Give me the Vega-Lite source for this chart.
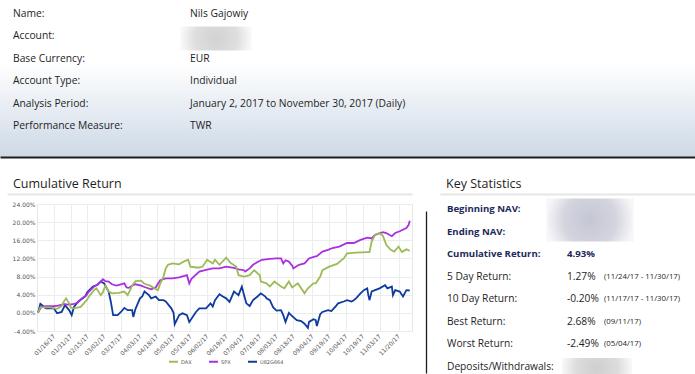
{
  "$schema": "https://vega.github.io/schema/vega-lite/v6.json",
  "background": "white",
  "padding": 0,
  "columns": 1,
  "align": "none",
  "spacing": 20,
  "config": {"font": "Open Sans", "view": {"stroke": null}, "axis": {"minExtent": 0}},
  "concat": [
    {
      "width": 695,
      "height": 157,
      "view": {"stroke": null, "fill": {"gradient": "linear", "x1": 0, "y1": 0, "x2": 0, "y2": 1, "stops": [{"offset": 0, "color": "#ffffff"}, {"offset": 0.4, "color": "#ffffff"}, {"offset": 1, "color": "#cdd9e6"}]}},
      "data": {"values": [
        {"row": 1, "col": "label", "text": "Name:"},
        {"row": 1, "col": "value", "text": "Nils Gajowiy"},
        {"row": 2, "col": "label", "text": "Account:"},
        {"row": 2, "col": "value", "text": ""},
        {"row": 3, "col": "label", "text": "Base Currency:"},
        {"row": 3, "col": "value", "text": "EUR"},
        {"row": 4, "col": "label", "text": "Account Type:"},
        {"row": 4, "col": "value", "text": "Individual"},
        {"row": 5, "col": "label", "text": "Analysis Period:"},
        {"row": 5, "col": "value", "text": "January 2, 2017 to November 30, 2017 (Daily)"},
        {"row": 6, "col": "label", "text": "Performance Measure:"},
        {"row": 6, "col": "value", "text": "TWR"}
      ]},
      "layer": [
        {
          "mark": {"type": "point", "opacity": 0},
          "encoding": {
            "x": {"field": "col", "type": "nominal", "scale": {"type": "point"}, "axis": {"orient": "bottom", "labels": false, "ticks": false, "title": null, "grid": false, "domain": true, "domainColor": "#1e1e1e", "domainWidth": 2, "minExtent": 0, "maxExtent": 0}}
          }
        },
        {
          "mark": {"type": "text", "align": "left", "baseline": "middle", "fontSize": 10.3, "color": "#1e1e1e", "font": "Open Sans"},
          "encoding": {
            "x": {"field": "col", "type": "nominal", "scale": {"type": "point", "domain": ["label", "value"], "range": [13, 190], "padding": 0}, "axis": null},
            "y": {"field": "row", "type": "ordinal", "scale": {"type": "point", "domain": [1, 2, 3, 4, 5, 6], "range": [14, 126], "padding": 0}, "axis": null},
            "text": {"field": "text"}
          }
        },
        {
          "transform": [{"filter": "datum.row == 2 && datum.col == 'value'"}],
          "mark": {"type": "point", "shape": "M-1,-0.333L1,-0.333L1,0.333L-1,0.333Z", "size": 5184, "filled": true, "opacity": 1, "strokeWidth": 0, "xOffset": 26, "yOffset": 2,
            "fill": {"gradient": "radial", "x1": 0.5, "y1": 0.5, "x2": 0.5, "y2": 0.5, "r1": 0, "r2": 0.5, "stops": [{"offset": 0, "color": "#d2d2d2"}, {"offset": 0.6, "color": "#dedede"}, {"offset": 1, "color": "#fafafa"}]}},
          "encoding": {
            "x": {"field": "col", "type": "nominal", "scale": {"type": "point", "domain": ["label", "value"], "range": [13, 190], "padding": 0}, "axis": null},
            "y": {"field": "row", "type": "ordinal", "scale": {"type": "point", "domain": [1, 2, 3, 4, 5, 6], "range": [14, 126], "padding": 0}, "axis": null}
          }
        }
      ],
      "resolve": {"scale": {"x": "independent", "y": "independent"}}
    },
    {
      "spacing": 14,
      "bounds": "flush",
      "hconcat": [
        {
          "width": 23,
          "height": 127,
          "data": {"values": [{"k": 1}]},
          "mark": {"type": "point", "opacity": 0},
          "encoding": {}
        },
        {
          "width": 375,
          "height": 127,
          "view": {"stroke": "#e6e6e6"},
          "title": {"text": "Cumulative Return", "anchor": "start", "frame": "group", "dx": -24, "offset": 4, "fontSize": 12.5, "fontWeight": "normal", "font": "Open Sans", "color": "#1e1e1e"},
          "layer": [
            {
              "data": {"values": [
                {"date": "2017-01-02", "series": "U82G664", "value": 0.1},
                {"date": "2017-01-04", "series": "U82G664", "value": 2.0},
                {"date": "2017-01-09", "series": "U82G664", "value": 1.0},
                {"date": "2017-01-16", "series": "U82G664", "value": 1.0},
                {"date": "2017-01-19", "series": "U82G664", "value": -0.1},
                {"date": "2017-01-23", "series": "U82G664", "value": 0.2},
                {"date": "2017-01-26", "series": "U82G664", "value": 1.7},
                {"date": "2017-01-30", "series": "U82G664", "value": 0.5},
                {"date": "2017-02-01", "series": "U82G664", "value": -0.5},
                {"date": "2017-02-03", "series": "U82G664", "value": 1.3},
                {"date": "2017-02-07", "series": "U82G664", "value": 2.5},
                {"date": "2017-02-13", "series": "U82G664", "value": 3.6},
                {"date": "2017-02-15", "series": "U82G664", "value": 4.6},
                {"date": "2017-02-20", "series": "U82G664", "value": 5.8},
                {"date": "2017-02-24", "series": "U82G664", "value": 6.2},
                {"date": "2017-02-27", "series": "U82G664", "value": 6.9},
                {"date": "2017-03-02", "series": "U82G664", "value": 6.5},
                {"date": "2017-03-06", "series": "U82G664", "value": 4.7},
                {"date": "2017-03-08", "series": "U82G664", "value": 2.4},
                {"date": "2017-03-10", "series": "U82G664", "value": -0.5},
                {"date": "2017-03-14", "series": "U82G664", "value": -0.5},
                {"date": "2017-03-17", "series": "U82G664", "value": 0.2},
                {"date": "2017-03-20", "series": "U82G664", "value": 1.1},
                {"date": "2017-03-23", "series": "U82G664", "value": 0.6},
                {"date": "2017-03-27", "series": "U82G664", "value": 0.6},
                {"date": "2017-03-28", "series": "U82G664", "value": -0.9},
                {"date": "2017-03-30", "series": "U82G664", "value": 0.9},
                {"date": "2017-04-03", "series": "U82G664", "value": 3.2},
                {"date": "2017-04-05", "series": "U82G664", "value": 3.6},
                {"date": "2017-04-07", "series": "U82G664", "value": 4.7},
                {"date": "2017-04-11", "series": "U82G664", "value": 3.9},
                {"date": "2017-04-13", "series": "U82G664", "value": 3.2},
                {"date": "2017-04-17", "series": "U82G664", "value": 3.6},
                {"date": "2017-04-20", "series": "U82G664", "value": 2.8},
                {"date": "2017-04-24", "series": "U82G664", "value": 2.8},
                {"date": "2017-04-26", "series": "U82G664", "value": 2.5},
                {"date": "2017-05-01", "series": "U82G664", "value": 1.0},
                {"date": "2017-05-03", "series": "U82G664", "value": 0.0},
                {"date": "2017-05-04", "series": "U82G664", "value": -2.5},
                {"date": "2017-05-08", "series": "U82G664", "value": -0.5},
                {"date": "2017-05-11", "series": "U82G664", "value": -0.1},
                {"date": "2017-05-15", "series": "U82G664", "value": -0.5},
                {"date": "2017-05-17", "series": "U82G664", "value": -2.0},
                {"date": "2017-05-19", "series": "U82G664", "value": -1.3},
                {"date": "2017-05-23", "series": "U82G664", "value": 0.2},
                {"date": "2017-05-26", "series": "U82G664", "value": 1.0},
                {"date": "2017-06-01", "series": "U82G664", "value": 1.0},
                {"date": "2017-06-05", "series": "U82G664", "value": 2.1},
                {"date": "2017-06-07", "series": "U82G664", "value": 1.4},
                {"date": "2017-06-09", "series": "U82G664", "value": 2.8},
                {"date": "2017-06-13", "series": "U82G664", "value": 4.1},
                {"date": "2017-06-16", "series": "U82G664", "value": 3.6},
                {"date": "2017-06-19", "series": "U82G664", "value": 3.2},
                {"date": "2017-06-22", "series": "U82G664", "value": 2.4},
                {"date": "2017-06-26", "series": "U82G664", "value": 4.7},
                {"date": "2017-06-28", "series": "U82G664", "value": 4.3},
                {"date": "2017-06-30", "series": "U82G664", "value": 3.9},
                {"date": "2017-07-03", "series": "U82G664", "value": 5.8},
                {"date": "2017-07-05", "series": "U82G664", "value": 3.9},
                {"date": "2017-07-07", "series": "U82G664", "value": 2.1},
                {"date": "2017-07-10", "series": "U82G664", "value": 1.5},
                {"date": "2017-07-13", "series": "U82G664", "value": 2.8},
                {"date": "2017-07-17", "series": "U82G664", "value": 3.6},
                {"date": "2017-07-20", "series": "U82G664", "value": 4.3},
                {"date": "2017-07-24", "series": "U82G664", "value": 3.6},
                {"date": "2017-07-25", "series": "U82G664", "value": 3.2},
                {"date": "2017-07-28", "series": "U82G664", "value": 2.8},
                {"date": "2017-07-31", "series": "U82G664", "value": 1.2},
                {"date": "2017-08-03", "series": "U82G664", "value": 0.5},
                {"date": "2017-08-07", "series": "U82G664", "value": 0.6},
                {"date": "2017-08-09", "series": "U82G664", "value": -0.5},
                {"date": "2017-08-11", "series": "U82G664", "value": -2.0},
                {"date": "2017-08-14", "series": "U82G664", "value": 0.0},
                {"date": "2017-08-16", "series": "U82G664", "value": -0.5},
                {"date": "2017-08-21", "series": "U82G664", "value": -1.6},
                {"date": "2017-08-25", "series": "U82G664", "value": -1.8},
                {"date": "2017-08-28", "series": "U82G664", "value": -2.4},
                {"date": "2017-08-31", "series": "U82G664", "value": -3.3},
                {"date": "2017-09-01", "series": "U82G664", "value": -2.0},
                {"date": "2017-09-05", "series": "U82G664", "value": -1.4},
                {"date": "2017-09-07", "series": "U82G664", "value": -1.6},
                {"date": "2017-09-08", "series": "U82G664", "value": -2.9},
                {"date": "2017-09-11", "series": "U82G664", "value": -0.3},
                {"date": "2017-09-13", "series": "U82G664", "value": 0.2},
                {"date": "2017-09-18", "series": "U82G664", "value": 0.6},
                {"date": "2017-09-21", "series": "U82G664", "value": 0.4},
                {"date": "2017-09-25", "series": "U82G664", "value": 1.5},
                {"date": "2017-09-27", "series": "U82G664", "value": 2.1},
                {"date": "2017-10-02", "series": "U82G664", "value": 2.5},
                {"date": "2017-10-05", "series": "U82G664", "value": 2.8},
                {"date": "2017-10-09", "series": "U82G664", "value": 2.5},
                {"date": "2017-10-11", "series": "U82G664", "value": 2.8},
                {"date": "2017-10-13", "series": "U82G664", "value": 3.2},
                {"date": "2017-10-17", "series": "U82G664", "value": 4.3},
                {"date": "2017-10-20", "series": "U82G664", "value": 5.0},
                {"date": "2017-10-23", "series": "U82G664", "value": 5.4},
                {"date": "2017-10-24", "series": "U82G664", "value": 3.9},
                {"date": "2017-10-25", "series": "U82G664", "value": 2.8},
                {"date": "2017-10-27", "series": "U82G664", "value": 4.7},
                {"date": "2017-10-30", "series": "U82G664", "value": 5.0},
                {"date": "2017-11-03", "series": "U82G664", "value": 5.4},
                {"date": "2017-11-08", "series": "U82G664", "value": 6.1},
                {"date": "2017-11-10", "series": "U82G664", "value": 5.4},
                {"date": "2017-11-14", "series": "U82G664", "value": 5.8},
                {"date": "2017-11-15", "series": "U82G664", "value": 3.9},
                {"date": "2017-11-17", "series": "U82G664", "value": 5.0},
                {"date": "2017-11-21", "series": "U82G664", "value": 4.7},
                {"date": "2017-11-24", "series": "U82G664", "value": 3.6},
                {"date": "2017-11-27", "series": "U82G664", "value": 5.0},
                {"date": "2017-11-30", "series": "U82G664", "value": 4.93},
                {"date": "2017-01-02", "series": "SPX", "value": 0.1},
                {"date": "2017-01-05", "series": "SPX", "value": 1.4},
                {"date": "2017-01-10", "series": "SPX", "value": 1.5},
                {"date": "2017-01-16", "series": "SPX", "value": 1.5},
                {"date": "2017-01-20", "series": "SPX", "value": 1.6},
                {"date": "2017-01-25", "series": "SPX", "value": 1.9},
                {"date": "2017-01-30", "series": "SPX", "value": 1.8},
                {"date": "2017-02-02", "series": "SPX", "value": 1.9},
                {"date": "2017-02-06", "series": "SPX", "value": 2.2},
                {"date": "2017-02-10", "series": "SPX", "value": 3.2},
                {"date": "2017-02-14", "series": "SPX", "value": 3.8},
                {"date": "2017-02-16", "series": "SPX", "value": 4.6},
                {"date": "2017-02-21", "series": "SPX", "value": 5.8},
                {"date": "2017-02-24", "series": "SPX", "value": 6.2},
                {"date": "2017-03-01", "series": "SPX", "value": 7.4},
                {"date": "2017-03-03", "series": "SPX", "value": 7.0},
                {"date": "2017-03-06", "series": "SPX", "value": 6.9},
                {"date": "2017-03-09", "series": "SPX", "value": 6.3},
                {"date": "2017-03-13", "series": "SPX", "value": 6.0},
                {"date": "2017-03-17", "series": "SPX", "value": 6.3},
                {"date": "2017-03-20", "series": "SPX", "value": 6.5},
                {"date": "2017-03-22", "series": "SPX", "value": 5.6},
                {"date": "2017-03-24", "series": "SPX", "value": 5.5},
                {"date": "2017-03-27", "series": "SPX", "value": 6.0},
                {"date": "2017-03-30", "series": "SPX", "value": 6.3},
                {"date": "2017-04-04", "series": "SPX", "value": 6.0},
                {"date": "2017-04-07", "series": "SPX", "value": 5.7},
                {"date": "2017-04-13", "series": "SPX", "value": 5.2},
                {"date": "2017-04-17", "series": "SPX", "value": 5.6},
                {"date": "2017-04-21", "series": "SPX", "value": 7.2},
                {"date": "2017-04-26", "series": "SPX", "value": 7.6},
                {"date": "2017-05-02", "series": "SPX", "value": 7.6},
                {"date": "2017-05-08", "series": "SPX", "value": 7.8},
                {"date": "2017-05-15", "series": "SPX", "value": 8.3},
                {"date": "2017-05-17", "series": "SPX", "value": 6.5},
                {"date": "2017-05-19", "series": "SPX", "value": 7.5},
                {"date": "2017-05-26", "series": "SPX", "value": 9.1},
                {"date": "2017-06-01", "series": "SPX", "value": 9.5},
                {"date": "2017-06-07", "series": "SPX", "value": 9.8},
                {"date": "2017-06-13", "series": "SPX", "value": 9.8},
                {"date": "2017-06-19", "series": "SPX", "value": 10.2},
                {"date": "2017-06-26", "series": "SPX", "value": 9.9},
                {"date": "2017-06-30", "series": "SPX", "value": 9.6},
                {"date": "2017-07-05", "series": "SPX", "value": 9.4},
                {"date": "2017-07-06", "series": "SPX", "value": 9.1},
                {"date": "2017-07-10", "series": "SPX", "value": 9.8},
                {"date": "2017-07-13", "series": "SPX", "value": 10.6},
                {"date": "2017-07-17", "series": "SPX", "value": 11.2},
                {"date": "2017-07-21", "series": "SPX", "value": 11.7},
                {"date": "2017-07-28", "series": "SPX", "value": 11.9},
                {"date": "2017-08-03", "series": "SPX", "value": 12.0},
                {"date": "2017-08-07", "series": "SPX", "value": 12.0},
                {"date": "2017-08-09", "series": "SPX", "value": 10.9},
                {"date": "2017-08-11", "series": "SPX", "value": 11.6},
                {"date": "2017-08-14", "series": "SPX", "value": 11.3},
                {"date": "2017-08-17", "series": "SPX", "value": 10.4},
                {"date": "2017-08-18", "series": "SPX", "value": 9.8},
                {"date": "2017-08-23", "series": "SPX", "value": 10.6},
                {"date": "2017-08-28", "series": "SPX", "value": 10.9},
                {"date": "2017-09-01", "series": "SPX", "value": 12.0},
                {"date": "2017-09-06", "series": "SPX", "value": 12.4},
                {"date": "2017-09-08", "series": "SPX", "value": 12.5},
                {"date": "2017-09-13", "series": "SPX", "value": 13.5},
                {"date": "2017-09-18", "series": "SPX", "value": 13.9},
                {"date": "2017-09-22", "series": "SPX", "value": 14.3},
                {"date": "2017-09-28", "series": "SPX", "value": 14.6},
                {"date": "2017-10-05", "series": "SPX", "value": 15.4},
                {"date": "2017-10-11", "series": "SPX", "value": 15.4},
                {"date": "2017-10-17", "series": "SPX", "value": 16.1},
                {"date": "2017-10-23", "series": "SPX", "value": 16.6},
                {"date": "2017-10-27", "series": "SPX", "value": 16.4},
                {"date": "2017-10-30", "series": "SPX", "value": 17.2},
                {"date": "2017-11-06", "series": "SPX", "value": 17.8},
                {"date": "2017-11-09", "series": "SPX", "value": 17.6},
                {"date": "2017-11-14", "series": "SPX", "value": 16.9},
                {"date": "2017-11-17", "series": "SPX", "value": 17.6},
                {"date": "2017-11-21", "series": "SPX", "value": 18.0},
                {"date": "2017-11-27", "series": "SPX", "value": 18.7},
                {"date": "2017-11-29", "series": "SPX", "value": 19.4},
                {"date": "2017-11-30", "series": "SPX", "value": 20.3},
                {"date": "2017-01-02", "series": "DAX", "value": 0.1},
                {"date": "2017-01-04", "series": "DAX", "value": 1.2},
                {"date": "2017-01-09", "series": "DAX", "value": 1.2},
                {"date": "2017-01-13", "series": "DAX", "value": 1.2},
                {"date": "2017-01-19", "series": "DAX", "value": 0.9},
                {"date": "2017-01-23", "series": "DAX", "value": 1.5},
                {"date": "2017-01-25", "series": "DAX", "value": 2.5},
                {"date": "2017-01-27", "series": "DAX", "value": 3.2},
                {"date": "2017-01-30", "series": "DAX", "value": 2.0},
                {"date": "2017-01-31", "series": "DAX", "value": 1.2},
                {"date": "2017-02-03", "series": "DAX", "value": 1.0},
                {"date": "2017-02-09", "series": "DAX", "value": 1.3},
                {"date": "2017-02-13", "series": "DAX", "value": 2.4},
                {"date": "2017-02-15", "series": "DAX", "value": 3.0},
                {"date": "2017-02-17", "series": "DAX", "value": 3.8},
                {"date": "2017-02-21", "series": "DAX", "value": 5.0},
                {"date": "2017-02-23", "series": "DAX", "value": 5.4},
                {"date": "2017-02-27", "series": "DAX", "value": 3.9},
                {"date": "2017-03-01", "series": "DAX", "value": 4.6},
                {"date": "2017-03-03", "series": "DAX", "value": 6.0},
                {"date": "2017-03-06", "series": "DAX", "value": 4.7},
                {"date": "2017-03-09", "series": "DAX", "value": 4.3},
                {"date": "2017-03-15", "series": "DAX", "value": 4.4},
                {"date": "2017-03-20", "series": "DAX", "value": 4.7},
                {"date": "2017-03-23", "series": "DAX", "value": 3.9},
                {"date": "2017-03-27", "series": "DAX", "value": 6.0},
                {"date": "2017-03-30", "series": "DAX", "value": 7.0},
                {"date": "2017-04-04", "series": "DAX", "value": 7.1},
                {"date": "2017-04-07", "series": "DAX", "value": 6.4},
                {"date": "2017-04-12", "series": "DAX", "value": 6.0},
                {"date": "2017-04-16", "series": "DAX", "value": 5.4},
                {"date": "2017-04-19", "series": "DAX", "value": 5.0},
                {"date": "2017-04-21", "series": "DAX", "value": 6.4},
                {"date": "2017-04-24", "series": "DAX", "value": 8.0},
                {"date": "2017-04-26", "series": "DAX", "value": 9.8},
                {"date": "2017-04-28", "series": "DAX", "value": 10.6},
                {"date": "2017-05-02", "series": "DAX", "value": 10.9},
                {"date": "2017-05-08", "series": "DAX", "value": 10.7},
                {"date": "2017-05-12", "series": "DAX", "value": 11.3},
                {"date": "2017-05-16", "series": "DAX", "value": 11.7},
                {"date": "2017-05-18", "series": "DAX", "value": 10.2},
                {"date": "2017-05-23", "series": "DAX", "value": 10.0},
                {"date": "2017-05-26", "series": "DAX", "value": 10.0},
                {"date": "2017-05-29", "series": "DAX", "value": 10.2},
                {"date": "2017-06-02", "series": "DAX", "value": 11.7},
                {"date": "2017-06-07", "series": "DAX", "value": 10.9},
                {"date": "2017-06-09", "series": "DAX", "value": 11.7},
                {"date": "2017-06-13", "series": "DAX", "value": 10.6},
                {"date": "2017-06-19", "series": "DAX", "value": 12.2},
                {"date": "2017-06-23", "series": "DAX", "value": 11.0},
                {"date": "2017-06-28", "series": "DAX", "value": 10.2},
                {"date": "2017-06-30", "series": "DAX", "value": 8.3},
                {"date": "2017-07-05", "series": "DAX", "value": 8.0},
                {"date": "2017-07-10", "series": "DAX", "value": 8.3},
                {"date": "2017-07-14", "series": "DAX", "value": 9.4},
                {"date": "2017-07-19", "series": "DAX", "value": 8.3},
                {"date": "2017-07-20", "series": "DAX", "value": 6.9},
                {"date": "2017-07-25", "series": "DAX", "value": 6.5},
                {"date": "2017-07-28", "series": "DAX", "value": 5.8},
                {"date": "2017-08-01", "series": "DAX", "value": 6.9},
                {"date": "2017-08-07", "series": "DAX", "value": 5.8},
                {"date": "2017-08-10", "series": "DAX", "value": 5.4},
                {"date": "2017-08-14", "series": "DAX", "value": 6.9},
                {"date": "2017-08-17", "series": "DAX", "value": 5.6},
                {"date": "2017-08-22", "series": "DAX", "value": 6.5},
                {"date": "2017-08-25", "series": "DAX", "value": 5.4},
                {"date": "2017-08-28", "series": "DAX", "value": 4.3},
                {"date": "2017-08-31", "series": "DAX", "value": 5.4},
                {"date": "2017-09-05", "series": "DAX", "value": 6.5},
                {"date": "2017-09-07", "series": "DAX", "value": 6.5},
                {"date": "2017-09-11", "series": "DAX", "value": 8.0},
                {"date": "2017-09-13", "series": "DAX", "value": 9.4},
                {"date": "2017-09-19", "series": "DAX", "value": 10.2},
                {"date": "2017-09-26", "series": "DAX", "value": 10.8},
                {"date": "2017-10-02", "series": "DAX", "value": 12.0},
                {"date": "2017-10-05", "series": "DAX", "value": 13.1},
                {"date": "2017-10-13", "series": "DAX", "value": 13.3},
                {"date": "2017-10-23", "series": "DAX", "value": 13.4},
                {"date": "2017-10-25", "series": "DAX", "value": 13.4},
                {"date": "2017-10-27", "series": "DAX", "value": 15.7},
                {"date": "2017-10-30", "series": "DAX", "value": 17.2},
                {"date": "2017-11-03", "series": "DAX", "value": 17.6},
                {"date": "2017-11-06", "series": "DAX", "value": 17.0},
                {"date": "2017-11-09", "series": "DAX", "value": 15.0},
                {"date": "2017-11-13", "series": "DAX", "value": 13.9},
                {"date": "2017-11-16", "series": "DAX", "value": 13.5},
                {"date": "2017-11-20", "series": "DAX", "value": 14.6},
                {"date": "2017-11-23", "series": "DAX", "value": 13.4},
                {"date": "2017-11-27", "series": "DAX", "value": 14.0},
                {"date": "2017-11-30", "series": "DAX", "value": 13.7}
              ]},
              "mark": {"type": "line", "strokeWidth": 1.8},
              "encoding": {
                "x": {
                  "field": "date", "type": "temporal",
                  "scale": {"type": "utc", "domain": [{"year": 2017, "month": 1, "date": 1, "utc": true}, {"year": 2017, "month": 12, "date": 2, "utc": true}]},
                  "axis": {
                    "values": [
                      {"year": 2017, "month": 1, "date": 16, "utc": true},
                      {"year": 2017, "month": 1, "date": 31, "utc": true},
                      {"year": 2017, "month": 2, "date": 15, "utc": true},
                      {"year": 2017, "month": 3, "date": 2, "utc": true},
                      {"year": 2017, "month": 3, "date": 17, "utc": true},
                      {"year": 2017, "month": 4, "date": 3, "utc": true},
                      {"year": 2017, "month": 4, "date": 18, "utc": true},
                      {"year": 2017, "month": 5, "date": 3, "utc": true},
                      {"year": 2017, "month": 5, "date": 18, "utc": true},
                      {"year": 2017, "month": 6, "date": 2, "utc": true},
                      {"year": 2017, "month": 6, "date": 19, "utc": true},
                      {"year": 2017, "month": 7, "date": 4, "utc": true},
                      {"year": 2017, "month": 7, "date": 19, "utc": true},
                      {"year": 2017, "month": 8, "date": 3, "utc": true},
                      {"year": 2017, "month": 8, "date": 18, "utc": true},
                      {"year": 2017, "month": 9, "date": 4, "utc": true},
                      {"year": 2017, "month": 9, "date": 19, "utc": true},
                      {"year": 2017, "month": 10, "date": 4, "utc": true},
                      {"year": 2017, "month": 10, "date": 19, "utc": true},
                      {"year": 2017, "month": 11, "date": 3, "utc": true},
                      {"year": 2017, "month": 11, "date": 20, "utc": true}
                    ],
                    "labelExpr": "utcFormat(datum.value, '%m/%d/%y')",
                    "labelAngle": -45, "labelAlign": "right", "labelBaseline": "middle", "labelFont": "DejaVu Sans", "labelFontSize": 6, "labelColor": "#555555",
                    "ticks": false, "domain": false, "grid": true, "gridColor": "#ececec", "title": null,
                    "labelPadding": 4, "labelOverlap": false, "labelFlush": false, "labelBound": false
                  }
                },
                "y": {
                  "field": "value", "type": "quantitative",
                  "scale": {"domain": [-4, 24], "nice": false},
                  "axis": {
                    "values": [-4, 0, 4, 8, 12, 16, 20, 24],
                    "labelExpr": "replace(format(datum.value, '.2f'), '−', '-') + '%'",
                    "labelFont": "DejaVu Sans", "labelFontSize": 6, "labelColor": "#555555",
                    "ticks": false, "domain": false, "grid": true, "gridColor": "#ececec", "title": null,
                    "labelPadding": 2, "minExtent": 0, "maxExtent": 37
                  }
                },
                "color": {
                  "field": "series", "type": "nominal",
                  "scale": {"domain": ["DAX", "SPX", "U82G664"], "range": ["#9bbb59", "#a92fe0", "#0e3b9d"]},
                  "legend": {"orient": "none", "legendX": 168, "legendY": 356, "direction": "horizontal", "title": null, "padding": 0, "symbolType": "stroke", "symbolStrokeWidth": 2, "symbolSize": 81, "labelOffset": 2, "labelFont": "DejaVu Sans", "labelFontSize": 5, "labelColor": "#555555", "columnPadding": 13}
                }
              }
            },
            {
              "data": {"values": [{"k": "a"}, {"k": "b"}]},
              "mark": {"type": "point", "opacity": 0},
              "encoding": {
                "x": {"field": "k", "type": "nominal", "scale": {"type": "point", "range": [-30, 375]}, "axis": {"orient": "top", "offset": 10, "labels": false, "ticks": false, "grid": false, "title": null, "domainColor": "#e6e6e6", "domainWidth": 2}}
              }
            }
          ],
          "resolve": {"scale": {"x": "independent"}}
        },
        {
          "width": 269,
          "height": 169,
          "title": {"text": "Key Statistics", "anchor": "start", "frame": "group", "dx": 20, "offset": 4, "fontSize": 12.5, "fontWeight": "normal", "font": "Open Sans", "color": "#1e1e1e"},
          "data": {"values": [
            {"row": 1, "col": "label", "kind": "key", "text": "Beginning NAV:"},
            {"row": 1, "col": "value", "kind": "hidden", "text": ""},
            {"row": 2, "col": "label", "kind": "key", "text": "Ending NAV:"},
            {"row": 3, "col": "label", "kind": "key", "text": "Cumulative Return:"},
            {"row": 3, "col": "value", "kind": "key", "text": "4.93%"},
            {"row": 4, "col": "label", "kind": "detail", "text": "5 Day Return:"},
            {"row": 4, "col": "value", "kind": "detail", "text": "1.27%"},
            {"row": 4, "col": "date", "kind": "detail", "text": "(11/24/17 - 11/30/17)"},
            {"row": 5, "col": "label", "kind": "detail", "text": "10 Day Return:"},
            {"row": 5, "col": "value", "kind": "detail", "text": "-0.20%"},
            {"row": 5, "col": "date", "kind": "detail", "text": "(11/17/17 - 11/30/17)"},
            {"row": 6, "col": "label", "kind": "detail", "text": "Best Return:"},
            {"row": 6, "col": "value", "kind": "detail", "text": "2.68%"},
            {"row": 6, "col": "date", "kind": "detail", "text": "(09/11/17)"},
            {"row": 7, "col": "label", "kind": "detail", "text": "Worst Return:"},
            {"row": 7, "col": "value", "kind": "detail", "text": "-2.49%"},
            {"row": 7, "col": "date", "kind": "detail", "text": "(05/04/17)"},
            {"row": 8, "col": "label", "kind": "detail", "text": "Deposits/Withdrawals:"},
            {"row": 8, "col": "value", "kind": "hidden", "text": ""}
          ]},
          "layer": [
            {
              "data": {"values": [{"k": "a"}, {"k": "b"}]},
              "mark": {"type": "point", "opacity": 0},
              "encoding": {
                "x": {"field": "k", "type": "nominal", "scale": {"type": "point", "range": [14, 269]}, "axis": {"orient": "top", "offset": 10, "labels": false, "ticks": false, "grid": false, "title": null, "domainColor": "#e6e6e6", "domainWidth": 2}},
                "y": {"field": "k", "type": "nominal", "scale": {"type": "point", "range": [7, 169]}, "axis": {"orient": "left", "labels": false, "ticks": false, "grid": false, "title": null, "domainColor": "#1e1e1e", "domainWidth": 1.3, "minExtent": 0, "maxExtent": 0}}
              }
            },
            {
              "transform": [{"filter": "datum.kind == 'key'"}],
              "mark": {"type": "text", "align": "left", "baseline": "middle", "fontSize": 9.6, "fontWeight": "bold", "color": "#1c2a5a", "font": "Open Sans"},
              "encoding": {
                "x": {"field": "col", "type": "nominal", "scale": {"type": "point", "domain": ["label", "value"], "range": [21, 141], "padding": 0}, "axis": null},
                "y": {"field": "row", "type": "ordinal", "scale": {"type": "point", "domain": [1, 2, 3, 4, 5, 6, 7, 8], "range": [5, 163], "padding": 0}, "axis": null},
                "text": {"field": "text"}
              }
            },
            {
              "transform": [{"filter": "datum.kind == 'detail' && datum.col != 'date'"}],
              "mark": {"type": "text", "align": "left", "baseline": "middle", "fontSize": 10.2, "color": "#1e1e1e", "font": "Open Sans"},
              "encoding": {
                "x": {"field": "col", "type": "nominal", "scale": {"type": "point", "domain": ["label", "value"], "range": [21, 141], "padding": 0}, "axis": null},
                "y": {"field": "row", "type": "ordinal", "scale": {"type": "point", "domain": [1, 2, 3, 4, 5, 6, 7, 8], "range": [5, 163], "padding": 0}, "axis": null},
                "text": {"field": "text"}
              }
            },
            {
              "transform": [{"filter": "datum.col == 'date'"}],
              "mark": {"type": "text", "align": "left", "baseline": "middle", "fontSize": 7.8, "color": "#1e1e1e", "font": "Open Sans"},
              "encoding": {
                "x": {"field": "col", "type": "nominal", "scale": {"type": "point", "domain": ["date"], "range": [178, 178], "padding": 0}, "axis": null},
                "y": {"field": "row", "type": "ordinal", "scale": {"type": "point", "domain": [1, 2, 3, 4, 5, 6, 7, 8], "range": [5, 163], "padding": 0}, "axis": null},
                "text": {"field": "text"}
              }
            },
            {
              "transform": [{"filter": "datum.kind == 'hidden' && datum.row == 1"}],
              "mark": {"type": "point", "shape": "M-1,-0.494L1,-0.494L1,0.494L-1,0.494Z", "size": 7569, "filled": true, "opacity": 1, "strokeWidth": 0, "xOffset": 23, "yOffset": 11,
                "fill": {"gradient": "radial", "x1": 0.5, "y1": 0.5, "x2": 0.5, "y2": 0.5, "r1": 0, "r2": 0.5, "stops": [{"offset": 0, "color": "#c4c6d3"}, {"offset": 0.6, "color": "#d3d4de"}, {"offset": 1, "color": "#f6f6f8"}]}},
              "encoding": {
                "x": {"field": "col", "type": "nominal", "scale": {"type": "point", "domain": ["label", "value"], "range": [21, 141], "padding": 0}, "axis": null},
                "y": {"field": "row", "type": "ordinal", "scale": {"type": "point", "domain": [1, 2, 3, 4, 5, 6, 7, 8], "range": [5, 163], "padding": 0}, "axis": null}
              }
            },
            {
              "transform": [{"filter": "datum.kind == 'hidden' && datum.row == 8"}],
              "mark": {"type": "point", "shape": "M-1,-0.286L1,-0.286L1,0.286L-1,0.286Z", "size": 4900, "filled": true, "opacity": 1, "strokeWidth": 0, "xOffset": 30, "yOffset": 1,
                "fill": {"gradient": "radial", "x1": 0.5, "y1": 0.5, "x2": 0.5, "y2": 0.5, "r1": 0, "r2": 0.5, "stops": [{"offset": 0, "color": "#cfcfcf"}, {"offset": 0.6, "color": "#dcdcdc"}, {"offset": 1, "color": "#f8f8f8"}]}},
              "encoding": {
                "x": {"field": "col", "type": "nominal", "scale": {"type": "point", "domain": ["label", "value"], "range": [21, 141], "padding": 0}, "axis": null},
                "y": {"field": "row", "type": "ordinal", "scale": {"type": "point", "domain": [1, 2, 3, 4, 5, 6, 7, 8], "range": [5, 163], "padding": 0}, "axis": null}
              }
            }
          ],
          "resolve": {"scale": {"x": "independent", "y": "independent"}}
        }
      ]
    }
  ]
}
